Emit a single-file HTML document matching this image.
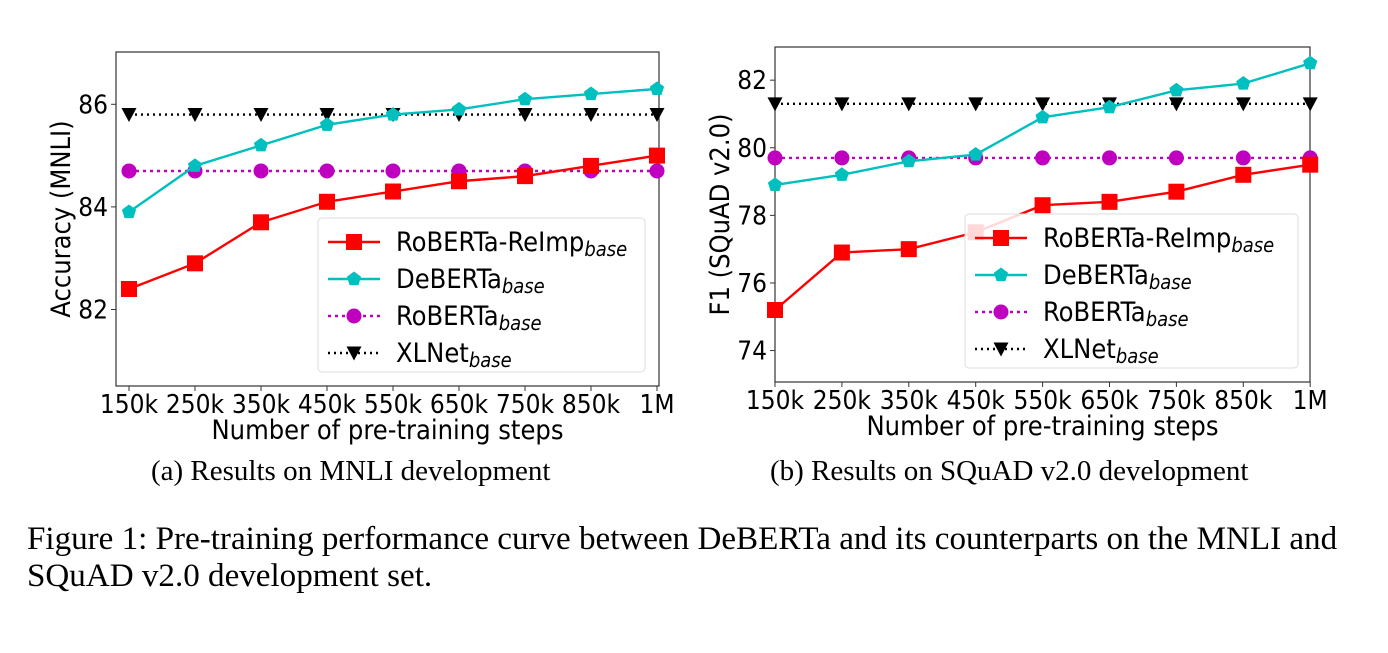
<!DOCTYPE html>
<html><head><meta charset="utf-8"><style>
body{margin:0;background:#fff;width:1388px;height:653px;overflow:hidden;font-family:"DejaVu Sans Condensed","DejaVu Sans",sans-serif}
svg{position:absolute;left:0;top:0}
svg text{font-family:"DejaVu Sans Condensed","DejaVu Sans",sans-serif}
.cap{position:absolute;font-family:"Liberation Serif",serif;color:#000;white-space:nowrap}
</style></head><body>
<svg id="fig" width="1388" height="653"></svg>
<div class="cap" style="left:151px;top:455px;font-size:29px">(a) Results on MNLI development</div>
<div class="cap" style="left:770px;top:455px;font-size:29px">(b) Results on SQuAD v2.0 development</div>
<div class="cap" style="left:27px;top:521px;font-size:33.1px;line-height:37px">Figure 1: Pre-training performance curve between DeBERTa and its counterparts on the MNLI and<br>SQuAD v2.0 development set.</div>
<script>
const xLabels=["150k","250k","350k","450k","550k","650k","750k","850k","1M"];
const mnliReimp=[82.4,82.9,83.7,84.1,84.3,84.5,84.6,84.8,85.0];
const mnliDeberta=[83.9,84.8,85.2,85.6,85.8,85.9,86.1,86.2,86.3];
const mnliRoberta=[84.7,84.7,84.7,84.7,84.7,84.7,84.7,84.7,84.7];
const mnliXlnet=[85.8,85.8,85.8,85.8,85.8,85.8,85.8,85.8,85.8];
const mnliTicks=[82,84,86];
const squadReimp=[75.2,76.9,77.0,77.5,78.3,78.4,78.7,79.2,79.5];
const squadDeberta=[78.9,79.2,79.6,79.8,80.9,81.2,81.7,81.9,82.5];
const squadRoberta=[79.7,79.7,79.7,79.7,79.7,79.7,79.7,79.7,79.7];
const squadXlnet=[81.3,81.3,81.3,81.3,81.3,81.3,81.3,81.3,81.3];
const squadTicks=[74,76,78,80,82];

const NS="http://www.w3.org/2000/svg";
const svg=document.getElementById('fig');
function el(tag,attrs,parent,name){const e=document.createElementNS(NS,tag);for(const k in attrs)e.setAttribute(k,attrs[k]);


(parent||svg).appendChild(e);return e;}
function marker(g,type,x,y,color,name){
 if(type==='sq') el('rect',{x:x-8,y:y-8,width:16,height:16,fill:color},g,name);
 else if(type==='pent'){let p=[];for(let i=0;i<5;i++){const a=-Math.PI/2+i*2*Math.PI/5;p.push((x+7.5*Math.cos(a)).toFixed(1)+','+(y+7.5*Math.sin(a)).toFixed(1));}el('polygon',{points:p.join(' '),fill:color},g,name);}
 else if(type==='circ') el('circle',{cx:x,cy:y,r:7.5,fill:color},g,name);
 else el('polygon',{points:`${x-7.5},${y-6.5} ${x+7.5},${y-6.5} ${x},${y+7.5}`,fill:color},g,name);
}
function chart(o){
 const g=el('g',{},svg,o.name);
 const X=i=>o.x0+i*o.dx;
 const Y=v=>o.y0-(v-o.v0)*o.k;
 el('rect',{x:o.L,y:o.T,width:o.R-o.L,height:o.B-o.T,fill:'none',stroke:'#333','stroke-width':1.2},g,'plot-frame');
 xLabels.forEach((t,i)=>{el('line',{x1:X(i),x2:X(i),y1:o.B,y2:o.B+5,stroke:'#333'},g,'x-tick');
  const tx=el('text',{x:X(i),y:o.B+27,'text-anchor':'middle','font-size':26},g,'x-tick-label');tx.textContent=t;});
 o.ticks.forEach(v=>{el('line',{x1:o.L-5,x2:o.L,y1:Y(v),y2:Y(v),stroke:'#333'},g,'y-tick');
  const tx=el('text',{x:o.L-8,y:Y(v)+9,'text-anchor':'end','font-size':26},g,'y-tick-label');tx.textContent=v;});
 const xl=el('text',{x:(o.L+o.R)/2,y:o.B+53,'text-anchor':'middle','font-size':27},g,'x-axis-title');xl.textContent='Number of pre-training steps';
 const yl=el('text',{x:0,y:0,'text-anchor':'middle','font-size':27,transform:`translate(${o.L-46},${(o.T+o.B)/2}) rotate(-90)`},g,'y-axis-title');yl.textContent=o.ylabel;
 const series=[[o.roberta,'#bf00bf','circ','3,4','roberta'],[o.xlnet,'#000','tri','2,4','xlnet'],[o.deberta,'#00bfbf','pent',null,'deberta'],[o.reimp,'#ff0000','sq',null,'roberta-reimp']];
 series.forEach(([d,c,m,dash,n])=>{
  const pts=d.map((v,i)=>X(i)+','+Y(v)).join(' ');
  const a={points:pts,fill:'none',stroke:c,'stroke-width':2.4};if(dash)a['stroke-dasharray']=dash;
  el('polyline',a,g,n+'-line');
  d.forEach((v,i)=>marker(g,m,X(i),Y(v),c,n+'-point'));
 });
 const lg=el('g',{},g,'legend');
 el('rect',{x:o.lx,y:o.ly,width:o.lw,height:154,rx:4,fill:'#fff','fill-opacity':0.85,stroke:'#ddd'},lg,'legend-box');
 const items=[['RoBERTa-ReImp','#ff0000','sq',null],['DeBERTa','#00bfbf','pent',null],['RoBERTa','#bf00bf','circ','3,4'],['XLNet','#000','tri','2,4']];
 items.forEach(([t,c,m,dash],i)=>{const yy=o.ly+24+i*37;
  const a={x1:o.lx+10,x2:o.lx+62,y1:yy,y2:yy,stroke:c,'stroke-width':2.4};if(dash)a['stroke-dasharray']=dash;
  el('line',a,lg,'legend-line');marker(lg,m,o.lx+36,yy,c,'legend-marker');
  const tx=el('text',{x:o.lx+78,y:yy+9,'font-size':27},lg,'legend-entry');
  tx.textContent=t;const s=el('tspan',{'font-size':20,'font-style':'italic',dy:5},tx,'legend-subscript');s.textContent='base';});
}
chart({name:'mnli-chart',L:116,R:659,T:52,B:386,x0:129,dx:66,y0:309.5,v0:82,k:51.3,ticks:mnliTicks,ylabel:'Accuracy (MNLI)',
 reimp:mnliReimp,deberta:mnliDeberta,roberta:mnliRoberta,xlnet:mnliXlnet,lx:318,ly:218,lw:327});
chart({name:'squad-chart',L:775,R:1310,T:47,B:382,x0:775,dx:66.9,y0:310,v0:75.2,k:33.8,ticks:squadTicks,ylabel:'F1 (SQuAD v2.0)',
 reimp:squadReimp,deberta:squadDeberta,roberta:squadRoberta,xlnet:squadXlnet,lx:965,ly:214,lw:333});
</script>
</body></html>
